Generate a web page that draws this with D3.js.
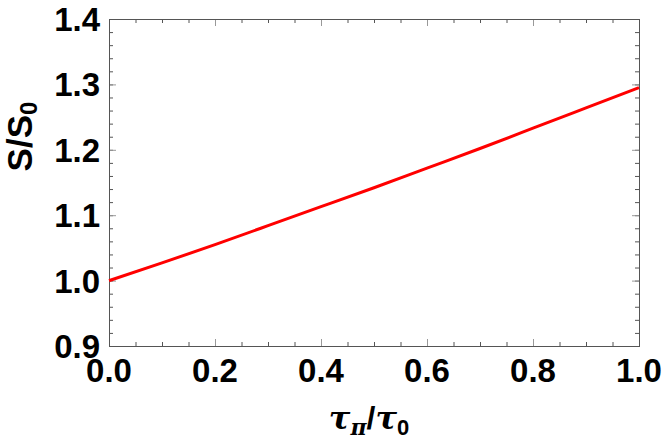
<!DOCTYPE html>
<html><head><meta charset="utf-8">
<script src="https://cdn.jsdelivr.net/npm/d3@7"></script>
<style>body{margin:0;background:#fff}svg{display:block}</style>
</head><body>
<script>
const xValues = [0.0, 0.1, 0.2, 0.3, 0.4, 0.5, 0.6, 0.7, 0.8, 0.9, 1.0];
const sRatio  = [1.000, 1.027, 1.055, 1.084, 1.113, 1.142, 1.172, 1.202, 1.233, 1.264, 1.295];
const xTickLabels = ["0.0","0.2","0.4","0.6","0.8","1.0"];
const yTickLabels = ["0.9","1.0","1.1","1.2","1.3","1.4"];

const W = 664, H = 439;
const m = {left:109, right:25, top:19, bottom:93};
const svg = d3.select("body").append("svg").attr("width",W).attr("height",H);
const x = d3.scaleLinear().domain([0,1]).range([m.left, W-m.right]);
const y = d3.scaleLinear().domain([0.9,1.4]).range([H-m.bottom, m.top]);

const frameCol = "#555";
const g = svg.append("g");
function ticksAt(start, stop, step){ const a=[]; for(let i=0;start+i*step<=stop+1e-9;i++) a.push(+(start+i*step).toFixed(4)); return a; }
const xMinor = ticksAt(0,1,0.05), yMinor = ticksAt(0.9,1.4,0.02);
const xMajor = xTickLabels.map(Number), yMajor = yTickLabels.map(Number);

function drawAxis(axisFn, scale, vals, len, transform, col){
  const a = g.append("g").attr("transform",transform)
    .call(axisFn(scale).tickValues(vals).tickSize(len).tickFormat(""));
  a.select(".domain").remove();
  a.selectAll("line").attr("stroke",col).attr("stroke-width",1);
}
const bottomY = H-m.bottom, topY = m.top, leftX = m.left, rightX = W-m.right;
const majCol = "#999";
drawAxis(d3.axisTop, x, xMinor, 4, `translate(0,${bottomY})`, frameCol);
drawAxis(d3.axisTop, x, xMajor, 7, `translate(0,${bottomY})`, majCol);
drawAxis(d3.axisBottom, x, xMinor, 4, `translate(0,${topY})`, frameCol);
drawAxis(d3.axisBottom, x, xMajor, 7, `translate(0,${topY})`, majCol);
drawAxis(d3.axisRight, y, yMinor, 4, `translate(${leftX},0)`, frameCol);
drawAxis(d3.axisRight, y, yMajor, 7, `translate(${leftX},0)`, majCol);
drawAxis(d3.axisLeft, y, yMinor, 4, `translate(${rightX},0)`, frameCol);
drawAxis(d3.axisLeft, y, yMajor, 7, `translate(${rightX},0)`, majCol);

svg.append("rect").attr("x",leftX+0.5).attr("y",topY+0.5)
  .attr("width",rightX-leftX).attr("height",bottomY-topY)
  .attr("fill","none").attr("stroke",frameCol).attr("stroke-width",1);

const lf = "'Liberation Sans', Arial, Helvetica, sans-serif";
svg.append("g").selectAll("text").data(xTickLabels).join("text")
  .attr("x",d=>x(+d)).attr("y",bottomY+36)
  .attr("text-anchor","middle").attr("font-family",lf).attr("font-weight","bold")
  .attr("font-size",33).attr("fill","#000").text(d=>d);
svg.append("g").selectAll("text").data(yTickLabels).join("text")
  .attr("x",leftX-9).attr("y",d=>y(+d)+12)
  .attr("text-anchor","end").attr("font-family",lf).attr("font-weight","bold")
  .attr("font-size",33).attr("fill","#000").text(d=>d);

const pts = xValues.map((v,i)=>[v,sRatio[i]]);
svg.append("path").datum(pts)
  .attr("d", d3.line().x(d=>x(d[0])).y(d=>y(d[1])).curve(d3.curveNatural))
  .attr("fill","none").attr("stroke","#ff0000").attr("stroke-width",3);

const yt = svg.append("text").attr("transform",`translate(32,${(topY+bottomY)/2 - 46}) rotate(-90)`)
  .attr("text-anchor","middle").attr("font-family",lf).attr("font-weight","bold")
  .attr("font-size",35).attr("fill","#000");
yt.append("tspan").text("S/S");
yt.append("tspan").attr("font-size",24).attr("dy",5).text("0");

const xt = svg.append("text").attr("x",(leftX+rightX)/2-5).attr("y",429)
  .attr("text-anchor","middle").attr("font-size",32).attr("fill","#000");
const sf = "'DejaVu Serif', 'Liberation Serif', serif";
xt.append("tspan").attr("font-family",sf).attr("font-style","italic").attr("font-weight","bold").text("τ");
xt.append("tspan").attr("font-family",sf).attr("font-style","italic").attr("font-weight","bold").attr("font-size",22).attr("dy",6).text("π");
xt.append("tspan").attr("font-family",lf).attr("font-weight","bold").attr("dy",-6).text("/");
xt.append("tspan").attr("font-family",sf).attr("font-style","italic").attr("font-weight","bold").text("τ");
xt.append("tspan").attr("font-family",lf).attr("font-weight","bold").attr("font-size",22).attr("dy",6).text("0");
</script>
</body></html>
